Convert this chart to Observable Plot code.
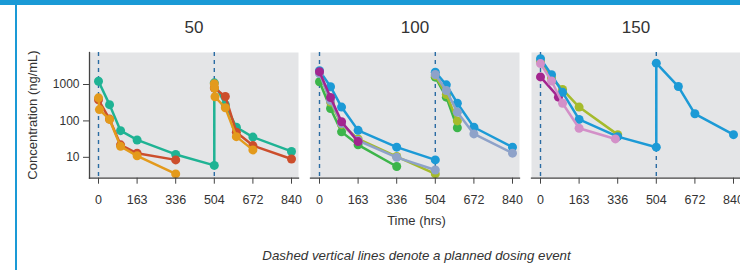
<!DOCTYPE html>
<html><head><meta charset="utf-8">
<script src="https://cdn.jsdelivr.net/npm/d3@7"></script>
<script src="https://cdn.jsdelivr.net/npm/@observablehq/plot@0.6"></script>
<style>
body{margin:0;background:#fff;width:740px;height:270px;overflow:hidden;position:relative;font-family:"Liberation Sans",Arial,sans-serif}
#topbar{position:absolute;left:0;top:0;width:740px;height:5px;background:#1a9ad6;z-index:2}
#leftbar{position:absolute;left:15px;top:0;width:1.5px;height:270px;background:#1a9ad6;z-index:2}
#chart{position:absolute;left:0;top:0}
</style></head><body>
<div id="chart"></div><div id="topbar"></div><div id="leftbar"></div>
<script>
const panels = ["50", "100", "150"];
const doseTimes = [0, 504];
const xTicks = [0, 168, 336, 504, 672, 840];
const xTickLabels = ["0", "163", "336", "504", "672", "840"];
const yTicks = [10, 100, 1000];

// Panel 50
const tealTime50 = [0, 48, 96, 168, 336, 504, 504, 552, 600, 672, 840];
const tealConc50 = [1230, 280, 54, 30, 12, 6, 1110, 280, 67, 36, 14.5];
const redTime50a = [0, 48, 96, 168, 336];
const redConc50a = [380, 112, 22, 12.9, 8.5];
const redTime50b = [504, 552, 600, 672, 840];
const redConc50b = [800, 470, 49, 21, 9];
const orangeTime50a = [0, 4, 48, 96, 168, 336];
const orangeConc50a = [430, 205, 110, 20, 11, 3.5];
const orangeTime50b = [504, 505, 507, 552, 600, 672];
const orangeConc50b = [1050, 800, 460, 230, 37, 16];

// Panel 100
const greenTime100a = [0, 48, 96, 168, 336];
const greenConc100a = [1190, 219, 50, 22, 5.6];
const greenTime100b = [504, 552, 600];
const greenConc100b = [1590, 450, 65];
const limeTime100a = [0, 48, 96, 168, 336, 504];
const limeConc100a = [2100, 330, 80, 32, 10.5, 3.5];
const limeTime100b = [504, 552, 600];
const limeConc100b = [1750, 530, 100];
const blueTime100a = [0, 48, 96, 168, 336, 504];
const blueConc100a = [2400, 870, 240, 55, 19, 8.5];
const blueTime100b = [504, 552, 600, 672, 840];
const blueConc100b = [2180, 980, 306, 67, 19];
const lavTime100a = [0, 48, 96, 168, 336, 504];
const lavConc100a = [2000, 360, 85, 29, 10, 4.5];
const lavTime100b = [504, 552, 600, 672, 840];
const lavConc100b = [1880, 684, 174, 44, 13];
const magTime100 = [0, 48, 96, 168];
const magConc100 = [2250, 440, 95, 27];

// Panel 150
const limeTime150 = [0, 48, 96, 168, 336];
const limeConc150 = [4300, 1500, 730, 240, 42];
const magTime150 = [0, 78];
const magConc150 = [1620, 450];
const blueTime150 = [0, 48, 96, 168, 336, 504, 504, 600, 672, 840];
const blueConc150 = [5100, 1850, 610, 110, 37, 19, 3850, 880, 157, 42];
const pinkTime150 = [0, 48, 96, 168, 326];
const pinkConc150 = [3750, 1250, 306, 63, 32];

const colors = {
  teal: "#1fb394", red: "#cc4e2c", orange: "#e39a1c",
  blue: "#1c9ad6", lav: "#8ea2c9", lime: "#a5bb2c",
  green: "#3cb54a", mag: "#a3258f", pink: "#d390c8"
};

const seriesList = [
  ["50", "teal", tealTime50, tealConc50],
  ["50", "red", redTime50a, redConc50a],
  ["50", "red", redTime50b, redConc50b],
  ["50", "orange", orangeTime50a, orangeConc50a],
  ["50", "orange", orangeTime50b, orangeConc50b],
  ["100", "green", greenTime100a, greenConc100a],
  ["100", "green", greenTime100b, greenConc100b],
  ["100", "lime", limeTime100a, limeConc100a],
  ["100", "lime", limeTime100b, limeConc100b],
  ["100", "blue", blueTime100a, blueConc100a],
  ["100", "blue", blueTime100b, blueConc100b],
  ["100", "lav", lavTime100a, lavConc100a],
  ["100", "lav", lavTime100b, lavConc100b],
  ["100", "mag", magTime100, magConc100],
  ["150", "lime", limeTime150, limeConc150],
  ["150", "mag", magTime150, magConc150],
  ["150", "blue", blueTime150, blueConc150],
  ["150", "pink", pinkTime150, pinkConc150]
];

const marks = [
  Plot.frame({fill: "#e4e5e7"}),
  Plot.ruleX(doseTimes, {x: d => d, stroke: "#2b6ca3", strokeWidth: 1.4, strokeDasharray: "4,4"})
];
for (const [panel, col, times, concs] of seriesList) {
  const rows = times.map((t, i) => ({panel, t, c: concs[i]}));
  marks.push(Plot.line(rows, {x: "t", y: "c", fx: "panel", stroke: colors[col], strokeWidth: 2.5}));
  marks.push(Plot.dot(rows, {x: "t", y: "c", fx: "panel", r: 4.5, fill: colors[col]}));
}
marks.push(
  Plot.frame({anchor: "bottom", stroke: "#444", strokeWidth: 1.3}),
  Plot.frame({anchor: "left", facetAnchor: "left", stroke: "#444", strokeWidth: 1.3}),
  Plot.axisX({ticks: xTicks, tickFormat: d => xTickLabels[xTicks.indexOf(d)], tickSize: 6, tickPadding: 11, fontSize: 12.5, label: null, stroke: "#444"}),
  Plot.axisY({ticks: yTicks, tickFormat: d => String(d), tickSize: 6, tickPadding: 4, fontSize: 12, label: null, stroke: "#444"}),
  Plot.axisFx({anchor: "top", tickSize: 0, tickPadding: 19.5, fontSize: 17, label: null})
);

const chart = Plot.plot({
  width: 740, height: 270,
  marginTop: 52, marginBottom: 92.3, marginLeft: 89, marginRight: 0,
  style: {fontFamily: "'Liberation Sans', Arial, sans-serif", color: "#333", background: "transparent"},
  x: {domain: [0, 840], insetLeft: 9, insetRight: 7},
  y: {type: "log", domain: [2.67, 7570]},
  fx: {domain: panels, paddingInner: 0.056, paddingOuter: 0},
  marks
});
document.getElementById("chart").appendChild(chart);

const svg = d3.select(chart);
svg.append("text").attr("transform", "translate(37,115) rotate(-90)")
  .attr("text-anchor", "middle").attr("font-size", 13).attr("fill", "#333")
  .text("Concentration (ng/mL)");
svg.append("text").attr("x", 416.5).attr("y", 224.5)
  .attr("text-anchor", "middle").attr("font-size", 13).attr("fill", "#333")
  .text("Time (hrs)");
svg.append("text").attr("x", 416.5).attr("y", 259.5)
  .attr("text-anchor", "middle").attr("font-size", 13.3).attr("font-style", "italic").attr("fill", "#333")
  .text("Dashed vertical lines denote a planned dosing event");
</script>
</body></html>
